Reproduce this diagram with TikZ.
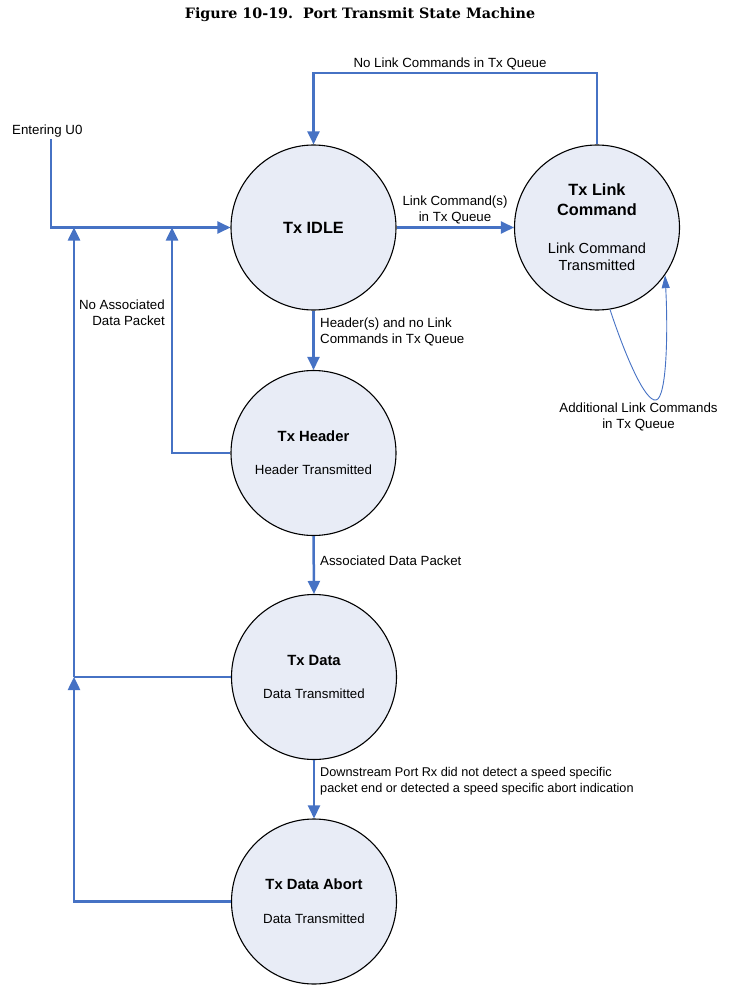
\documentclass[tikz,border=0pt]{standalone}
\usepackage{fontspec}
\setmainfont{Liberation Sans}
\newfontfamily\titlefont{DejaVu Serif}
\usetikzlibrary{arrows.meta}
\definecolor{lineblue}{RGB}{70,114,196}
\definecolor{statefill}{RGB}{232,236,246}
\tikzset{
  state/.style={circle,draw=black,line width=1.1pt,fill=statefill,minimum size=165pt,inner sep=0pt},
  conn/.style={draw=lineblue,line width=2.5pt,-{Triangle[length=13pt,width=12pt]}},
  plainconn/.style={draw=lineblue,line width=2.5pt},
  thinconn/.style={draw=lineblue,line width=0.9pt,-{Triangle[length=13pt,width=8pt]}},
  lbl/.style={inner sep=0pt,align=center,font=\fontsize{13.3}{16}\selectfont},
  sttitle/.style={inner sep=0pt,align=center,font=\fontsize{16.3}{20.5}\selectfont\bfseries},
  sttitlesm/.style={inner sep=0pt,align=center,font=\fontsize{14.8}{20}\selectfont\bfseries},
  stsub/.style={inner sep=0pt,align=center,font=\fontsize{13.3}{17.5}\selectfont},
  stsubbig/.style={inner sep=0pt,align=center,font=\fontsize{14.6}{17.5}\selectfont},
}
\begin{document}
\begin{tikzpicture}[x=1pt,y=-1pt]
\useasboundingbox (0,0) rectangle (733,995);
% title
\node[inner sep=0pt,font=\titlefont\fontsize{14.3}{18}\selectfont\bfseries] (title) at (360,14.5) {Figure 10-19.\ \ Port Transmit State Machine};
% states
\node[state] (idle) at (313.5,227.5) {};
\node[state] (link) at (597,227.5) {};
\node[state] (hdr) at (313.5,453) {};
\node[state] (data) at (314,677) {};
\node[state] (abort) at (314,901.5) {};
% state texts
\node[sttitle] (idlet) at (313.5,227.5) {Tx IDLE};
\node[sttitle] (linkt) at (597,199.5) {Tx Link\\Command};
\node[stsubbig] (links) at (597,257) {Link Command\\Transmitted};
\node[sttitlesm] (hdrt) at (313.5,436) {Tx Header};
\node[stsub] (hdrs) at (313.5,470) {Header Transmitted};
\node[sttitlesm] (datat) at (314,660) {Tx Data};
\node[stsub] (datas) at (314,694) {Data Transmitted};
\node[sttitlesm] (abortt) at (314,884) {Tx Data Abort};
\node[stsub] (aborts) at (314,919) {Data Transmitted};
% labels
\node[lbl,anchor=west] (entu0) at (12,131) {Entering U0};
\node[lbl] (lnolink) at (450,64) {No Link Commands in Tx Queue};
\node[lbl] (llinkcmd) at (455,209.5) {Link Command(s)\\in Tx Queue};
\node[lbl,anchor=west,align=left] (lhdr) at (320,332) {Header(s) and no Link\\Commands in Tx Queue};
\node[lbl,anchor=east,align=right] (lnoassoc) at (165,313) {No Associated\\Data Packet};
\node[lbl,anchor=west] (lassoc) at (320,561) {Associated Data Packet};
\node[lbl,anchor=west,align=left,font=\fontsize{12.7}{16}\selectfont] (ldown) at (320,781) {Downstream Port Rx did not detect a speed specific\\packet end or detected a speed specific abort indication};
\node[lbl] (laddl) at (638.5,417) {Additional Link Commands\\in Tx Queue};
% junction coordinates
\coordinate (ustart) at (51,139);
\coordinate (j1) at (74,227.5);
\coordinate (j2) at (74,677);
\coordinate (j3) at (172,227.5);
\coordinate (toploop) at (313.5,73);
% connectors
\draw[conn] (ustart) |- (idle.west);
\draw[conn] (link.north) |- (toploop) -- (idle.north);
\draw[conn] (idle.east) -- (link.west);
\draw[conn] (idle.south) -- (hdr.north);
\draw[conn] (hdr.south) -- (data.north);
\draw[conn] (data.south) -- (abort.north);
\draw[conn] (hdr.west) -| (j3);
\draw[plainconn] (data.west) -- (j2);
\draw[conn] (abort.west) -| (j2);
\draw[conn] (j2) -- (j1);
\draw[thinconn] (link.-81) .. controls (625,355) and (645,402) .. (656,400) .. controls (667,398) and (668,330) .. (link.-35);
\end{tikzpicture}
\end{document}
